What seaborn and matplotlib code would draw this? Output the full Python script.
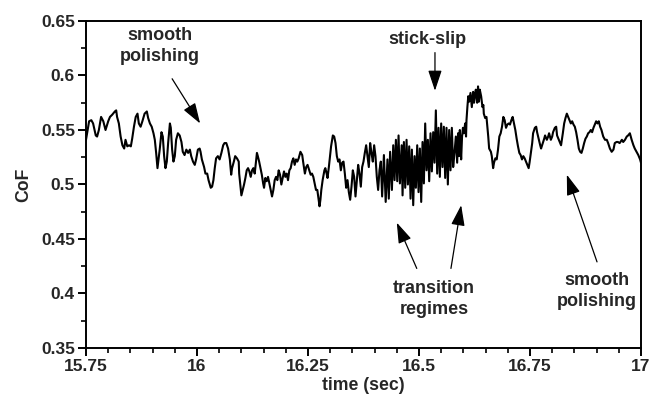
import matplotlib
matplotlib.use("Agg")
import matplotlib.pyplot as plt
import pandas as pd
import seaborn as sns

# Friction trace, split into the regimes seen along the run
time_polish_early = [
    15.750, 15.757, 15.762, 15.766, 15.772, 15.775, 15.779, 15.784, 15.789, 15.794,
    15.800, 15.804, 15.809, 15.815, 15.818, 15.820, 15.824, 15.828, 15.832, 15.836,
    15.839, 15.843, 15.847, 15.851, 15.854, 15.858, 15.862, 15.866, 15.869, 15.873,
    15.877, 15.882, 15.887, 15.890, 15.894, 15.898, 15.902, 15.905, 15.908, 15.911,
    15.916, 15.920, 15.923, 15.926, 15.929, 15.932, 15.935, 15.939, 15.941, 15.944,
    15.947, 15.950, 15.953, 15.957, 15.961, 15.965, 15.968, 15.972, 15.976, 15.980,
    15.984, 15.987, 15.991, 15.995, 15.998, 16.002, 16.006, 16.008, 16.011, 16.016,
    16.019, 16.023, 16.026, 16.031, 16.034, 16.037, 16.040, 16.043, 16.047, 16.051,
    16.055, 16.059, 16.062, 16.066, 16.070, 16.074, 16.077,
]
cof_polish_early = [
    0.541, 0.558, 0.559, 0.556, 0.545, 0.544, 0.550, 0.562, 0.558, 0.550,
    0.558, 0.562, 0.564, 0.567, 0.568, 0.562, 0.556, 0.544, 0.536, 0.533,
    0.541, 0.535, 0.536, 0.535, 0.542, 0.553, 0.562, 0.565, 0.556, 0.553,
    0.558, 0.565, 0.567, 0.561, 0.556, 0.553, 0.547, 0.541, 0.529, 0.515,
    0.532, 0.548, 0.544, 0.526, 0.515, 0.521, 0.538, 0.556, 0.552, 0.532,
    0.521, 0.526, 0.541, 0.547, 0.545, 0.539, 0.530, 0.527, 0.532, 0.529,
    0.532, 0.526, 0.521, 0.518, 0.523, 0.532, 0.533, 0.530, 0.523, 0.516,
    0.510, 0.510, 0.504, 0.497, 0.498, 0.504, 0.515, 0.524, 0.526, 0.523,
    0.529, 0.536, 0.538, 0.538, 0.533, 0.523, 0.509,
]

time_transition = [
    16.079, 16.083, 16.086, 16.090, 16.094, 16.095, 16.098, 16.100, 16.103, 16.106,
    16.109, 16.112, 16.115, 16.118, 16.121, 16.124, 16.127, 16.130, 16.133, 16.135,
    16.137, 16.140, 16.143, 16.146, 16.149, 16.151, 16.154, 16.157, 16.160, 16.163,
    16.166, 16.169, 16.172, 16.175, 16.178, 16.181, 16.184, 16.187, 16.190, 16.193,
    16.196, 16.199, 16.202, 16.205, 16.208, 16.211, 16.214, 16.217, 16.220, 16.223,
    16.226, 16.229, 16.233, 16.237, 16.239, 16.243, 16.246, 16.249, 16.253, 16.256,
    16.259, 16.262, 16.265, 16.268, 16.271, 16.274, 16.276, 16.278, 16.280, 16.283,
    16.287, 16.289, 16.292, 16.294, 16.297, 16.300, 16.302, 16.306, 16.309, 16.312,
    16.315, 16.318, 16.321, 16.324, 16.327, 16.330, 16.333, 16.336, 16.339, 16.342,
    16.345, 16.348, 16.351, 16.354, 16.357, 16.360, 16.363, 16.366, 16.369, 16.372,
    16.375, 16.378, 16.381, 16.384, 16.387, 16.390, 16.393, 16.396, 16.399, 16.402,
    16.405, 16.408, 16.411,
]
cof_transition = [
    0.515, 0.521, 0.526, 0.524, 0.521, 0.510, 0.498, 0.490, 0.495, 0.500,
    0.506, 0.513, 0.515, 0.512, 0.507, 0.513, 0.515, 0.510, 0.521, 0.529,
    0.526, 0.521, 0.515, 0.509, 0.501, 0.497, 0.506, 0.503, 0.507, 0.501,
    0.495, 0.489, 0.495, 0.504, 0.507, 0.504, 0.513, 0.509, 0.500, 0.506,
    0.512, 0.507, 0.510, 0.504, 0.513, 0.515, 0.521, 0.524, 0.518, 0.523,
    0.521, 0.524, 0.530, 0.527, 0.521, 0.510, 0.516, 0.518, 0.513, 0.509,
    0.510, 0.507, 0.501, 0.495, 0.495, 0.486, 0.480, 0.486, 0.495, 0.504,
    0.513, 0.515, 0.510, 0.506, 0.516, 0.527, 0.535, 0.545, 0.544, 0.538,
    0.526, 0.521, 0.523, 0.513, 0.520, 0.521, 0.510, 0.497, 0.504, 0.493,
    0.486, 0.498, 0.513, 0.507, 0.489, 0.504, 0.518, 0.510, 0.498, 0.516,
    0.521, 0.529, 0.536, 0.526, 0.516, 0.538, 0.529, 0.521, 0.536, 0.526,
    0.507, 0.495, 0.513,
]

time_stick_slip = [
    16.414, 16.417, 16.421, 16.425, 16.429, 16.432, 16.435, 16.439, 16.442, 16.445,
    16.448, 16.451, 16.454, 16.457, 16.461, 16.463, 16.466, 16.469, 16.472, 16.475,
    16.478, 16.481, 16.484, 16.487, 16.490, 16.493, 16.496, 16.499, 16.502, 16.505,
    16.508, 16.511, 16.514, 16.517, 16.520, 16.523, 16.526, 16.529, 16.532, 16.535,
    16.538, 16.541, 16.544, 16.547, 16.550, 16.553, 16.556, 16.559, 16.562, 16.565,
    16.568, 16.571, 16.574, 16.577, 16.580, 16.583, 16.586, 16.588, 16.590, 16.592,
    16.595, 16.597, 16.599, 16.601, 16.604, 16.606,
]
cof_stick_slip = [
    0.521, 0.489, 0.527, 0.484, 0.523, 0.487, 0.530, 0.495, 0.536, 0.504,
    0.541, 0.503, 0.545, 0.501, 0.536, 0.490, 0.539, 0.497, 0.541, 0.500,
    0.535, 0.487, 0.532, 0.481, 0.526, 0.497, 0.536, 0.493, 0.533, 0.484,
    0.539, 0.501, 0.556, 0.513, 0.541, 0.503, 0.547, 0.512, 0.548, 0.520,
    0.568, 0.510, 0.552, 0.507, 0.556, 0.516, 0.553, 0.506, 0.552, 0.500,
    0.550, 0.513, 0.552, 0.516, 0.529, 0.544, 0.520, 0.547, 0.526, 0.550,
    0.523, 0.544, 0.552, 0.547, 0.556, 0.544,
]

time_polish_late = [
    16.607, 16.609, 16.611, 16.613, 16.616, 16.619, 16.622, 16.624, 16.626, 16.628,
    16.631, 16.633, 16.635, 16.637, 16.640, 16.643, 16.645, 16.646, 16.649, 16.652,
    16.654, 16.656, 16.658, 16.662, 16.664, 16.667, 16.669, 16.672, 16.675, 16.678,
    16.681, 16.684, 16.687, 16.690, 16.693, 16.696, 16.699, 16.702, 16.705, 16.708,
    16.711, 16.714, 16.717, 16.720, 16.723, 16.726, 16.729, 16.732, 16.735, 16.738,
    16.741, 16.744, 16.747, 16.749, 16.752, 16.755, 16.757, 16.761, 16.764, 16.766,
    16.770, 16.773, 16.775, 16.779, 16.782, 16.784, 16.788, 16.791, 16.793, 16.797,
    16.800, 16.802, 16.806, 16.809, 16.811, 16.815, 16.818, 16.820, 16.824, 16.827,
    16.830, 16.833, 16.836, 16.839, 16.842, 16.845, 16.848, 16.851, 16.854, 16.857,
    16.860, 16.863, 16.866, 16.869, 16.872, 16.875, 16.878, 16.881, 16.884, 16.887,
    16.890, 16.893, 16.896, 16.899, 16.902, 16.905, 16.908, 16.911, 16.915, 16.919,
    16.923, 16.926, 16.930, 16.934, 16.938, 16.941, 16.945, 16.948, 16.952, 16.957,
    16.960, 16.964, 16.968, 16.971, 16.975, 16.979, 16.983, 16.986, 16.990, 16.994,
    16.998, 17.000,
]
cof_polish_late = [
    0.559, 0.571, 0.581, 0.576, 0.584, 0.571, 0.585, 0.575, 0.582, 0.587,
    0.575, 0.590, 0.576, 0.587, 0.581, 0.571, 0.573, 0.565, 0.561, 0.562,
    0.553, 0.544, 0.533, 0.530, 0.526, 0.515, 0.520, 0.524, 0.523, 0.532,
    0.544, 0.547, 0.553, 0.562, 0.559, 0.552, 0.555, 0.556, 0.555, 0.559,
    0.562, 0.556, 0.550, 0.542, 0.535, 0.529, 0.527, 0.523, 0.526, 0.524,
    0.521, 0.518, 0.515, 0.520, 0.529, 0.538, 0.547, 0.552, 0.553, 0.548,
    0.541, 0.536, 0.533, 0.538, 0.542, 0.545, 0.541, 0.544, 0.547, 0.541,
    0.544, 0.548, 0.552, 0.553, 0.545, 0.541, 0.538, 0.536, 0.547, 0.556,
    0.561, 0.565, 0.562, 0.559, 0.556, 0.558, 0.555, 0.553, 0.548, 0.541,
    0.533, 0.530, 0.529, 0.533, 0.538, 0.542, 0.544, 0.547, 0.548, 0.550,
    0.548, 0.552, 0.555, 0.558, 0.556, 0.558, 0.553, 0.550, 0.544, 0.541,
    0.541, 0.538, 0.533, 0.530, 0.532, 0.538, 0.539, 0.539, 0.538, 0.541,
    0.539, 0.541, 0.544, 0.545, 0.547, 0.541, 0.536, 0.533, 0.530, 0.527,
    0.523, 0.520,
]

x_ticks = [15.75, 16.0, 16.25, 16.5, 16.75, 17.0]
x_tick_labels = ["15.75", "16", "16.25", "16.5", "16.75", "17"]
y_ticks = [0.35, 0.40, 0.45, 0.50, 0.55, 0.60, 0.65]
y_tick_labels = ["0.35", "0.4", "0.45", "0.5", "0.55", "0.6", "0.65"]

segments = [
    (time_polish_early, cof_polish_early),
    (time_transition, cof_transition),
    (time_stick_slip, cof_stick_slip),
    (time_polish_late, cof_polish_late),
]
df = pd.concat(
    [pd.DataFrame({"time": t, "cof": c}) for t, c in segments],
    ignore_index=True,
)

sns.set_style("ticks")
plt.rcParams["font.family"] = ["Liberation Sans", "DejaVu Sans"]
plt.rcParams["font.weight"] = "bold"
plt.rcParams["axes.labelweight"] = "bold"

fig = plt.figure(figsize=(6.51, 4.03), dpi=100)
ax = fig.add_axes([0.1321, 0.1365, 0.8525, 0.8114])

sns.lineplot(data=df, x="time", y="cof", sort=False, estimator=None,
             color="black", linewidth=1.5, ax=ax)

ax.set_xlim(15.75, 17.0)
ax.set_ylim(0.35, 0.65)
ax.set_xticks(x_ticks)
ax.set_xticklabels(x_tick_labels)
ax.set_yticks(y_ticks)
ax.set_yticklabels(y_tick_labels)
ax.set_xticks([15.80, 15.85, 15.90, 15.95, 16.05, 16.10, 16.15, 16.20,
               16.30, 16.35, 16.40, 16.45, 16.55, 16.60, 16.65, 16.70,
               16.80, 16.85, 16.90, 16.95], minor=True)
ax.set_yticks([0.375, 0.425, 0.475, 0.525, 0.575, 0.625], minor=True)

ax.tick_params(which="major", direction="out", length=6, width=1.4,
               labelsize=12.5, pad=2, top=False, right=False, color="black")
ax.tick_params(which="minor", direction="out", length=3.5, width=1.2,
               top=False, right=False, color="black")
for lab in ax.get_xticklabels() + ax.get_yticklabels():
    lab.set_fontweight("bold")

for side in ["left", "right", "top", "bottom"]:
    ax.spines[side].set_visible(True)
    ax.spines[side].set_linewidth(1.4)
    ax.spines[side].set_color("black")

ax.set_xlabel("time (sec)", fontsize=12.7, fontweight="bold", labelpad=2)
ax.set_ylabel("CoF", fontsize=12.7, fontweight="bold", labelpad=6)

arrow = dict(arrowstyle="-|>,head_length=0.9,head_width=0.3",
             color="black", lw=0.9, shrinkA=0, shrinkB=0, mutation_scale=14)
text_kw = dict(ha="center", va="center", fontsize=13, fontweight="bold",
               linespacing=1.3)

ax.text(15.917, 0.627, "smooth\npolishing", **text_kw)
ax.annotate("", xy=(16.007, 0.556), xytext=(15.944, 0.597), arrowprops=arrow)

ax.text(16.518, 0.633, "stick-slip", **text_kw)
ax.annotate("", xy=(16.536, 0.586), xytext=(16.536, 0.621), arrowprops=arrow)

ax.text(16.534, 0.395, "transition\nregimes", **text_kw)
ax.annotate("", xy=(16.450, 0.465), xytext=(16.495, 0.423), arrowprops=arrow)
ax.annotate("", xy=(16.595, 0.481), xytext=(16.572, 0.423), arrowprops=arrow)

ax.text(16.901, 0.402, "smooth\npolishing", **text_kw)
ax.annotate("", xy=(16.833, 0.509), xytext=(16.901, 0.429), arrowprops=arrow)

fig.savefig("out.png", dpi=100)
